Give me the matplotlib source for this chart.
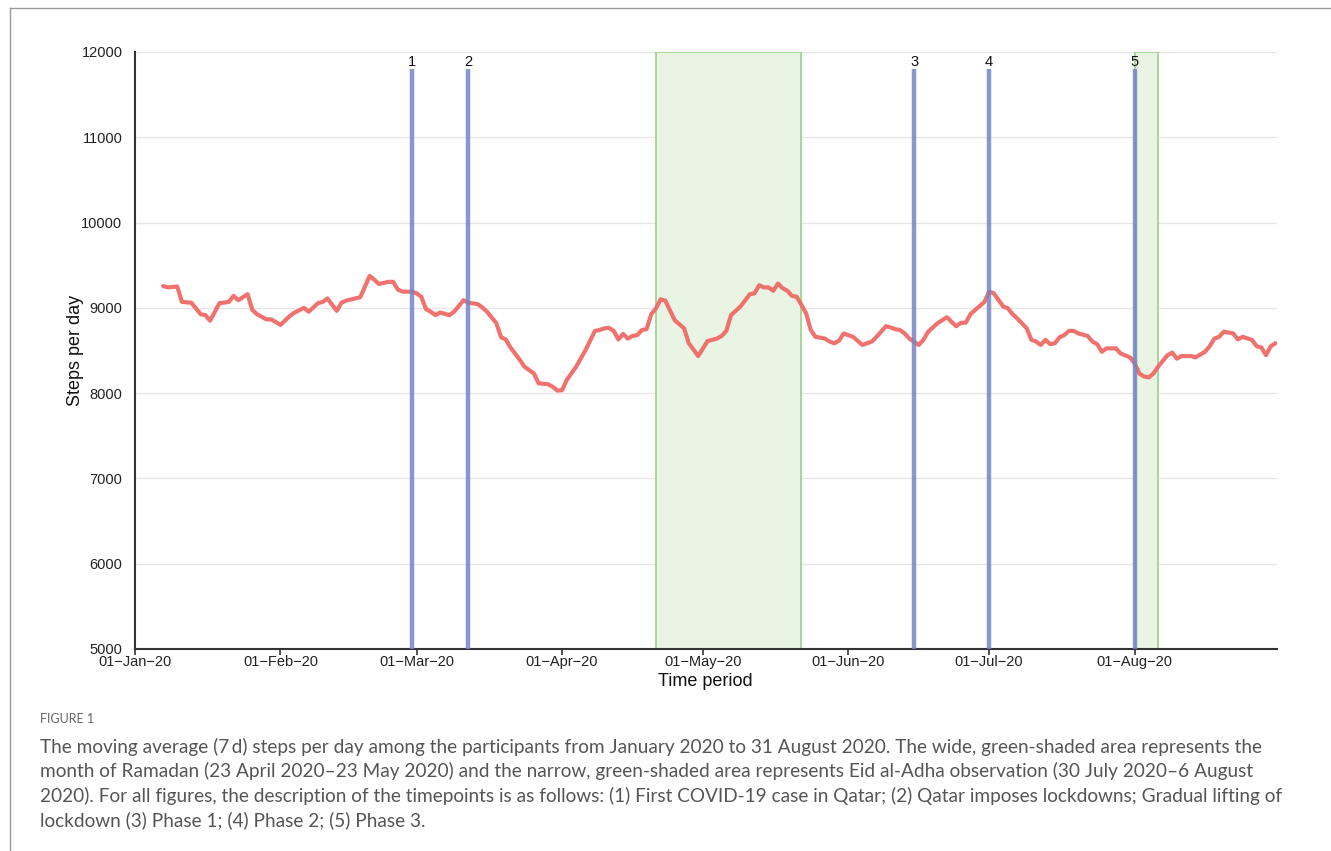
import matplotlib
matplotlib.use("Agg")
import matplotlib.pyplot as plt
import matplotlib.dates as mdates
import pandas as pd
from matplotlib.patches import Rectangle
from matplotlib.lines import Line2D

# ---------------- data ----------------
dates = [
    "2020-01-07", "2020-01-08", "2020-01-10", "2020-01-11", "2020-01-13", "2020-01-15", "2020-01-16",
    "2020-01-17", "2020-01-19", "2020-01-21", "2020-01-22", "2020-01-23", "2020-01-25", "2020-01-26",
    "2020-01-27", "2020-01-29", "2020-01-30", "2020-02-01", "2020-02-03", "2020-02-04", "2020-02-06",
    "2020-02-07", "2020-02-09", "2020-02-10", "2020-02-11", "2020-02-13", "2020-02-14", "2020-02-15",
    "2020-02-18", "2020-02-20", "2020-02-22", "2020-02-24", "2020-02-25", "2020-02-26", "2020-02-27",
    "2020-02-29", "2020-03-01", "2020-03-02", "2020-03-03", "2020-03-04", "2020-03-05", "2020-03-06",
    "2020-03-08", "2020-03-09", "2020-03-11", "2020-03-12", "2020-03-14", "2020-03-15", "2020-03-16",
    "2020-03-18", "2020-03-19", "2020-03-20", "2020-03-21", "2020-03-23", "2020-03-24", "2020-03-26",
    "2020-03-27", "2020-03-29", "2020-03-30", "2020-03-31", "2020-04-01", "2020-04-02", "2020-04-04",
    "2020-04-06", "2020-04-08", "2020-04-09", "2020-04-10", "2020-04-11", "2020-04-12", "2020-04-13",
    "2020-04-14", "2020-04-15", "2020-04-16", "2020-04-17", "2020-04-18", "2020-04-19", "2020-04-20",
    "2020-04-21", "2020-04-22", "2020-04-23", "2020-04-25", "2020-04-27", "2020-04-28", "2020-04-30",
    "2020-05-02", "2020-05-03", "2020-05-04", "2020-05-05", "2020-05-06", "2020-05-07", "2020-05-09",
    "2020-05-11", "2020-05-12", "2020-05-13", "2020-05-14", "2020-05-15", "2020-05-16", "2020-05-17",
    "2020-05-18", "2020-05-19", "2020-05-20", "2020-05-21", "2020-05-22", "2020-05-23", "2020-05-24",
    "2020-05-25", "2020-05-27", "2020-05-28", "2020-05-29", "2020-05-30", "2020-05-31", "2020-06-01",
    "2020-06-02", "2020-06-04", "2020-06-05", "2020-06-06", "2020-06-07", "2020-06-09", "2020-06-10",
    "2020-06-11", "2020-06-12", "2020-06-13", "2020-06-14", "2020-06-16", "2020-06-17", "2020-06-18",
    "2020-06-20", "2020-06-22", "2020-06-23", "2020-06-24", "2020-06-25", "2020-06-26", "2020-06-27",
    "2020-06-28", "2020-06-30", "2020-07-01", "2020-07-02", "2020-07-04", "2020-07-05", "2020-07-06",
    "2020-07-07", "2020-07-09", "2020-07-10", "2020-07-11", "2020-07-12", "2020-07-13", "2020-07-14",
    "2020-07-15", "2020-07-16", "2020-07-17", "2020-07-18", "2020-07-19", "2020-07-20", "2020-07-22",
    "2020-07-23", "2020-07-24", "2020-07-25", "2020-07-26", "2020-07-28", "2020-07-29", "2020-07-31",
    "2020-08-01", "2020-08-02", "2020-08-03", "2020-08-04", "2020-08-05", "2020-08-06", "2020-08-08",
    "2020-08-09", "2020-08-10", "2020-08-11", "2020-08-13", "2020-08-14", "2020-08-16", "2020-08-17",
    "2020-08-18", "2020-08-19", "2020-08-20", "2020-08-22", "2020-08-23", "2020-08-24", "2020-08-26",
    "2020-08-27", "2020-08-28", "2020-08-29", "2020-08-30", "2020-08-31",
]
steps = [
    9255, 9240, 9250, 9070, 9060, 8925, 8915,
    8850, 9055, 9070, 9140, 9090, 9160, 8975,
    8925, 8865, 8865, 8800, 8905, 8945, 9000,
    8955, 9055, 9070, 9110, 8965, 9060, 9085,
    9125, 9375, 9280, 9305, 9305, 9215, 9190,
    9190, 9170, 9130, 8985, 8955, 8915, 8945,
    8915, 8955, 9090, 9060, 9045, 9005, 8955,
    8820, 8655, 8630, 8535, 8390, 8310, 8230,
    8115, 8105, 8075, 8030, 8035, 8155, 8310,
    8505, 8730, 8740, 8760, 8765, 8730, 8630,
    8695, 8640, 8670, 8680, 8740, 8750, 8925,
    8995, 9100, 9085, 8855, 8760, 8585, 8435,
    8610, 8625, 8640, 8670, 8730, 8915, 9015,
    9160, 9170, 9265, 9240, 9240, 9200, 9285,
    9230, 9200, 9140, 9130, 9035, 8935, 8740,
    8660, 8640, 8605, 8585, 8615, 8700, 8680,
    8660, 8565, 8585, 8605, 8660, 8785, 8770,
    8750, 8740, 8700, 8640, 8565, 8625, 8720,
    8820, 8890, 8835, 8785, 8825, 8825, 8925,
    8975, 9070, 9190, 9170, 9015, 8995, 8925,
    8875, 8760, 8625, 8605, 8565, 8625, 8575,
    8585, 8655, 8680, 8730, 8730, 8700, 8670,
    8605, 8575, 8485, 8525, 8525, 8465, 8420,
    8350, 8230, 8195, 8185, 8230, 8310, 8445,
    8475, 8405, 8435, 8435, 8420, 8485, 8550,
    8640, 8660, 8720, 8700, 8630, 8660, 8625,
    8550, 8535, 8445, 8550, 8585,
]

timepoint_dates = ["2020-02-29", "2020-03-12", "2020-06-15", "2020-07-01", "2020-08-01"]
timepoint_labels = ["1", "2", "3", "4", "5"]
shaded_periods = [("2020-04-21", "2020-05-22"), ("2020-08-01", "2020-08-06")]

x_ticks = ["2020-01-01", "2020-02-01", "2020-03-01", "2020-04-01", "2020-05-01",
           "2020-06-01", "2020-07-01", "2020-08-01"]
y_ticks = [5000, 6000, 7000, 8000, 9000, 10000, 11000, 12000]

caption_title = "FIGURE 1"
caption_lines = [
    "The moving average (7\u2009d) steps per day among the participants from January 2020 to 31 August 2020. The wide, green-shaded area represents the",
    "month of Ramadan (23 April 2020\u201323 May 2020) and the narrow, green-shaded area represents Eid al-Adha observation (30 July 2020\u20136 August",
    "2020). For all figures, the description of the timepoints is as follows: (1) First COVID-19 case in Qatar; (2) Qatar imposes lockdowns; Gradual lifting of",
    "lockdown (3) Phase 1; (4) Phase 2; (5) Phase 3.",
]

# ---------------- figure ----------------
plt.rcParams["font.family"] = ["Liberation Sans", "DejaVu Sans"]
W, H = 1331, 851
fig = plt.figure(figsize=(W / 100, H / 100), dpi=100)
ax = fig.add_axes([135 / W, 1 - 649 / H, (1277 - 135) / W, (649 - 52) / H])

x = pd.to_datetime(dates)

# shaded periods
for start, end in shaded_periods:
    s = mdates.date2num(pd.Timestamp(start))
    e = mdates.date2num(pd.Timestamp(end))
    ax.add_patch(Rectangle((s, 5000), e - s, 7000, facecolor="#e9f4e4",
                           edgecolor="#9fd494", linewidth=1.3, zorder=1))

# grid
for yt in y_ticks[1:]:
    ax.axhline(yt, color="#e6e6e6", linewidth=1.0, zorder=0.5)

# main line
ax.plot(x, steps, color="#f06a66", linewidth=3.0, alpha=0.95, zorder=3,
        solid_joinstyle="round", solid_capstyle="round")

# timepoint lines
for d, lab in zip(timepoint_dates, timepoint_labels):
    xd = pd.Timestamp(d)
    ax.plot([xd, xd], [5000, 11800], color="#7485c4", linewidth=3.2, alpha=0.85,
            zorder=4, solid_capstyle="butt")
    ax.text(xd, 11800, lab, ha="center", va="bottom", fontsize=10.5, color="#111111", zorder=5)

ax.set_xlim(pd.Timestamp("2020-01-01"), pd.Timestamp("2020-08-31 08:00"))
ax.set_ylim(5000, 12000)
ax.set_yticks(y_ticks)
ax.set_yticklabels([str(v) for v in y_ticks])
ax.set_xticks(pd.to_datetime(x_ticks))
ax.set_xticklabels([pd.Timestamp(t).strftime("%d\u2212%b\u2212%y") for t in x_ticks])

ax.tick_params(axis="y", length=0, pad=9, labelsize=10.5, labelcolor="#222222")
ax.tick_params(axis="x", length=4, width=1.2, color="#333333", pad=0.5,
               labelsize=10.5, labelcolor="#222222")

for side in ["top", "right"]:
    ax.spines[side].set_visible(False)
for side in ["left", "bottom"]:
    ax.spines[side].set_color("#333333")
    ax.spines[side].set_linewidth(1.5)
ax.set_facecolor("none")

fig.text(705 / W, 1 - 682 / H, "Time period", ha="center", va="center", fontsize=13, color="#111111")
fig.text(75 / W, 1 - 350 / H, "Steps per day", ha="center", va="center", rotation=90,
         fontsize=13, color="#111111")

# caption
fig.text(40 / W, 1 - 719 / H, caption_title, ha="left", va="center", fontsize=9,
         color="#666666", family=["Lato", "DejaVu Sans"])
for i, line in enumerate(caption_lines):
    fig.text(40 / W, 1 - (746.5 + i * 24.7) / H, line, ha="left", va="center", fontsize=13.7,
             color="#555555", family=["Lato", "DejaVu Sans"])

# frame lines (top and left border)
fig.add_artist(Line2D([10 / W, 1.0], [1 - 8 / H, 1 - 8 / H], transform=fig.transFigure,
                      color="#9a9a9a", linewidth=1.0))
fig.add_artist(Line2D([10 / W, 10 / W], [0.0, 1 - 8 / H], transform=fig.transFigure,
                      color="#9a9a9a", linewidth=1.0))

fig.savefig("out.png", dpi=100)
